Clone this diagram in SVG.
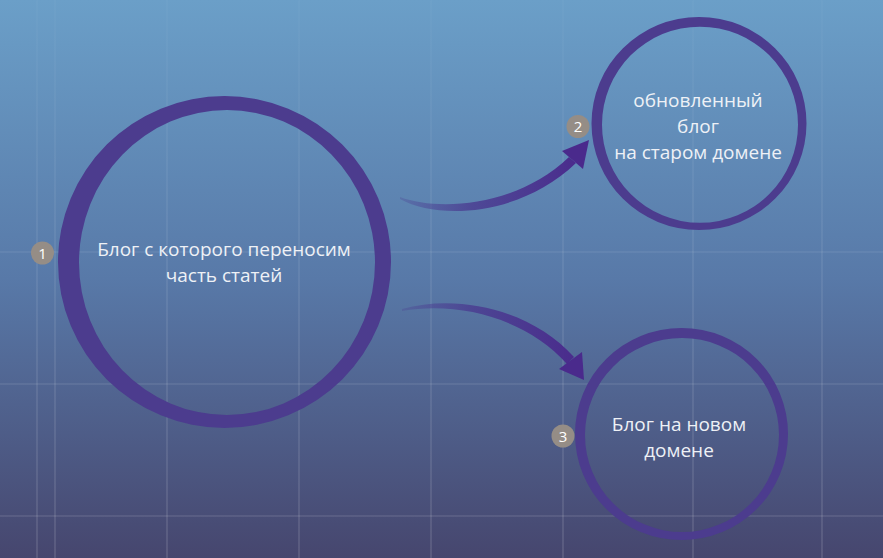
<svg xmlns="http://www.w3.org/2000/svg" width="883" height="558" viewBox="0 0 883 558">
<defs>
<linearGradient id="bg" x1="0" y1="0" x2="0" y2="558" gradientUnits="userSpaceOnUse">
<stop offset="0" stop-color="#6b9fc8"/>
<stop offset="0.5" stop-color="#5879a8"/>
<stop offset="1" stop-color="#46466e"/>
</linearGradient>
<linearGradient id="gridg" x1="0" y1="0" x2="0" y2="558" gradientUnits="userSpaceOnUse">
<stop offset="0" stop-color="#ffffff" stop-opacity="0.03"/>
<stop offset="0.45" stop-color="#ffffff" stop-opacity="0.11"/>
<stop offset="1" stop-color="#ffffff" stop-opacity="0.18"/>
</linearGradient>
<linearGradient id="a1" x1="400" y1="0" x2="580" y2="0" gradientUnits="userSpaceOnUse">
<stop offset="0" stop-color="#4a3a90" stop-opacity="0.25"/>
<stop offset="0.4" stop-color="#4a3a90" stop-opacity="0.8"/>
<stop offset="1" stop-color="#4a2a8c"/>
</linearGradient>
<style>
.ring{fill:#4c3c8e;fill-rule:evenodd;}
.grid line{stroke:url(#gridg);stroke-width:1.2;}
.lbl{font-family:"Open Sans","Noto Sans","DejaVu Sans",sans-serif;font-size:19px;fill:#eef1f6;text-anchor:middle;}
.badge circle{fill:#958d86;}
.badge text{font-family:"Open Sans","Noto Sans","DejaVu Sans",sans-serif;font-size:15px;fill:#ffffff;text-anchor:middle;}
.head{fill:#4a2a8c;}
</style>
</defs>
<rect width="883" height="558" fill="url(#bg)"/>
<g class="grid">
<line x1="37" y1="0" x2="37" y2="558"/>
<line x1="55" y1="0" x2="55" y2="558"/>
<line x1="167" y1="0" x2="167" y2="558"/>
<line x1="299" y1="0" x2="299" y2="558"/>
<line x1="431" y1="0" x2="431" y2="558"/>
<line x1="563" y1="0" x2="563" y2="558"/>
<line x1="693" y1="0" x2="693" y2="558"/>
<line x1="822" y1="0" x2="822" y2="558"/>
<line x1="0" y1="252" x2="883" y2="252"/>
<line x1="0" y1="384" x2="883" y2="384"/>
<line x1="0" y1="516" x2="883" y2="516"/>
</g>
<g id="connectors">
<g id="arrow-1-2">
<path d="M400,197 C440,212 518,206 569,157 L576,163 C522,215 440,221 400,199 Z" fill="url(#a1)"/>
<polygon class="head" points="589,140 562,151 583,169"/>
</g>
<g id="arrow-1-3">
<path d="M402,309 C460,293 533,311 574,357 L567,364 C527,319 460,301 402,311 Z" fill="url(#a1)"/>
<polygon class="head" points="584,380 559,369 582,352"/>
</g>
</g>
<g id="node-1">
<path class="ring" d="M58,262 A166.5,166 0 1,0 391,262 A166.5,166 0 1,0 58,262 Z M79,262.5 A148,152.5 0 1,0 375,262.5 A148,152.5 0 1,0 79,262.5 Z"/>
<text class="lbl" x="224" y="256">Блог с которого переносим</text>
<text class="lbl" x="224" y="282">часть статей</text>
<g class="badge"><circle cx="42.5" cy="253" r="11.5"/><text x="42.5" y="258.5">1</text></g>
</g>
<g id="node-2">
<path class="ring" d="M591.5,123.5 A107.5,106.5 0 1,0 806.5,123.5 A107.5,106.5 0 1,0 591.5,123.5 Z M602,124.7 A98,98 0 1,0 798,124.7 A98,98 0 1,0 602,124.7 Z"/>
<text class="lbl" x="698" y="107">обновленный</text>
<text class="lbl" x="698" y="133">блог</text>
<text class="lbl" x="698" y="159">на старом домене</text>
<g class="badge"><circle cx="578" cy="126.5" r="11.5"/><text x="578" y="132">2</text></g>
</g>
<g id="node-3">
<path class="ring" d="M575,434 A106.5,106 0 1,0 788,434 A106.5,106 0 1,0 575,434 Z M585,435 A97,97 0 1,0 779,435 A97,97 0 1,0 585,435 Z"/>
<text class="lbl" x="679" y="431">Блог на новом</text>
<text class="lbl" x="679" y="457">домене</text>
<g class="badge"><circle cx="563" cy="436" r="11.5"/><text x="563" y="441.5">3</text></g>
</g>
</svg>
